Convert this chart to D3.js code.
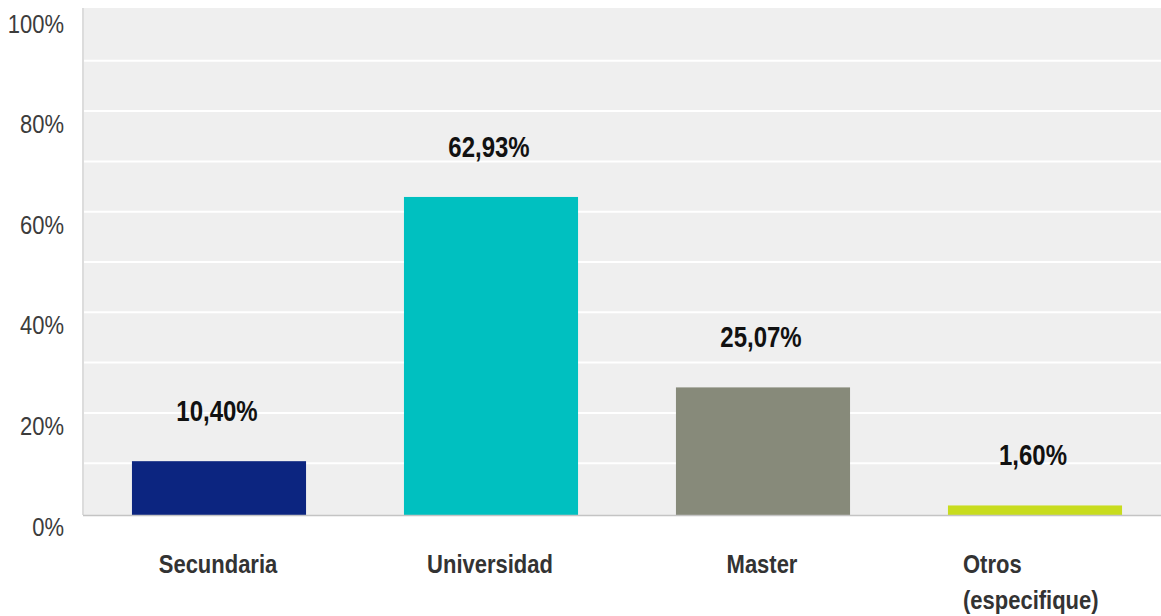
<!DOCTYPE html>
<html><head><meta charset="utf-8">
<script src="https://cdn.jsdelivr.net/npm/d3@7"></script>
<style>body{margin:0;background:#fff}svg{display:block}</style>
</head><body>
<svg id="c" width="1161" height="616"></svg>
<script>
const categories = ["Secundaria", "Universidad", "Master", "Otros (especifique)"];
const categoryLines = [["Secundaria"], ["Universidad"], ["Master"], ["Otros", "(especifique)"]];
const values = [10.40, 62.93, 25.07, 1.60];
const valueLabels = ["10,40%", "62,93%", "25,07%", "1,60%"];
const colors = ["#0c2580", "#00c0c0", "#878a7a", "#c8dc1e"];
const tickValues = [0, 20, 40, 60, 80, 100];
const tickLabels = ["0%", "20%", "40%", "60%", "80%", "100%"];
const gridValues = [10, 20, 30, 40, 50, 60, 70, 80, 90];

(function () {
const svg = d3.select("#c");
const pL = 83, pR = 1171, pT = 8, pB = 515;
const x = d3.scaleBand().domain(categories).range([pL, pR]).paddingInner(0.36).paddingOuter(0.18);
const y = d3.scaleLinear().domain([0, 100]).range([513.5, 10.5]);
const font = "'Liberation Sans', Arial, Helvetica, sans-serif";
const sy = 1.2;

svg.append("rect").attr("x", pL).attr("y", pT).attr("width", 1161 - pL).attr("height", pB - pT).attr("fill", "#efefef");
svg.selectAll(".grid").data(gridValues).join("line")
  .attr("x1", pL).attr("x2", 1161).attr("y1", d => y(d)).attr("y2", d => y(d))
  .attr("stroke", "#ffffff").attr("stroke-width", 2);
svg.append("line").attr("x1", pL).attr("x2", pL).attr("y1", pT).attr("y2", pB)
  .attr("stroke", "#dcdcdc").attr("stroke-width", 2);

svg.selectAll(".bar").data(values).join("rect")
  .attr("x", (d, i) => x(categories[i])).attr("width", x.bandwidth())
  .attr("y", d => y(d)).attr("height", d => pB - y(d))
  .attr("fill", (d, i) => colors[i]);

svg.append("line").attr("x1", pL).attr("x2", 1161).attr("y1", pB + 0.5).attr("y2", pB + 0.5)
  .attr("stroke", "#c4c4c4").attr("stroke-width", 1.5);

svg.selectAll(".tick").data(tickValues).join("text")
  .attr("transform", d => `translate(64,${y(d) + 22}) scale(1,${sy})`)
  .attr("text-anchor", "end").attr("font-family", font).attr("font-size", 22)
  .attr("fill", "#3c3c3c").text((d, i) => tickLabels[i]);

svg.selectAll(".val").data(values).join("text")
  .attr("transform", (d, i) => `translate(${x(categories[i]) + x.bandwidth() / 2 - 2},${y(d) - 40}) scale(1,${sy})`)
  .attr("text-anchor", "middle").attr("font-family", font).attr("font-size", 24).attr("font-weight", "bold")
  .attr("fill", "#111").text((d, i) => valueLabels[i]);

categoryLines.forEach((lines, i) => {
  const cx = x(categories[i]) + x.bandwidth() / 2;
  const multi = lines.length > 1;
  lines.forEach((ln, j) => {
    svg.append("text")
      .attr("transform", `translate(${multi ? cx - 72 : cx - 1},${573 + j * 36}) scale(1,${sy})`)
      .attr("text-anchor", multi ? "start" : "middle")
      .attr("font-family", font).attr("font-size", 22).attr("font-weight", "bold")
      .attr("fill", "#333").text(ln);
  });
});
})();
</script>
</body></html>
